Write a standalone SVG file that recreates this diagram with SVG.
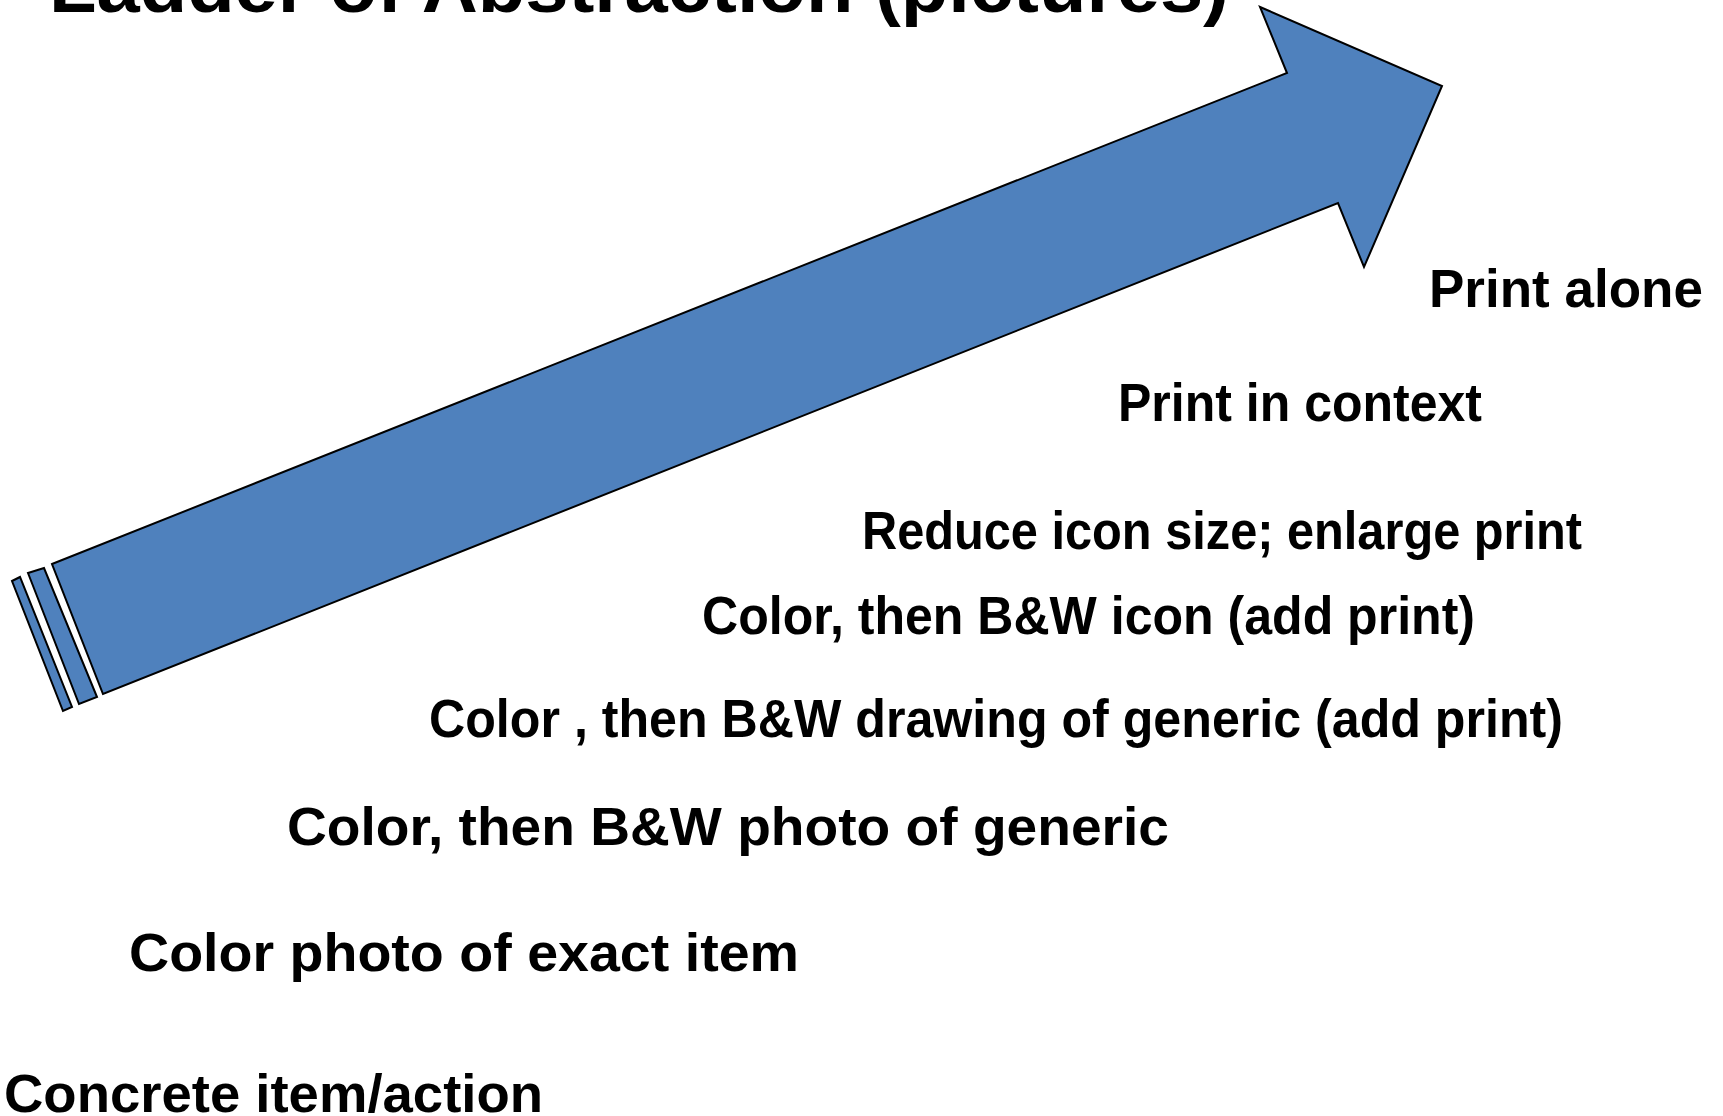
<svg xmlns="http://www.w3.org/2000/svg" width="1723" height="1116" viewBox="0 0 1723 1116">
<style>
.lbl{font-family:"Liberation Sans",Arial,sans-serif;font-weight:bold;font-size:54px;fill:#000}
.shape{fill:#4F81BD;stroke:#000;stroke-width:2;stroke-linejoin:miter}
</style>
<rect width="1723" height="1116" fill="#fff"/>
<g id="title">
<text class="lbl" x="49" y="12" style="font-size:74px" textLength="1180" lengthAdjust="spacingAndGlyphs">Ladder of Abstraction (pictures)</text>
</g>
<g id="arrow">
<polygon class="shape" points="52,564 1287,73 1260,7 1442,86 1364,267 1338,203 103,694"/>
<polygon class="shape" points="28,573 44,568 97,697 79,704"/>
<polygon class="shape" points="12,581 20,577 72,707 63,711"/>
</g>
<g id="labels">
<g id="n1"><text class="lbl" x="1429" y="307" textLength="274" lengthAdjust="spacingAndGlyphs">Print alone</text></g>
<g id="n2"><text class="lbl" x="1118" y="421" textLength="364" lengthAdjust="spacingAndGlyphs">Print in context</text></g>
<g id="n3"><text class="lbl" x="862" y="549" textLength="720" lengthAdjust="spacingAndGlyphs">Reduce icon size; enlarge print</text></g>
<g id="n4"><text class="lbl" x="702" y="634" textLength="773" lengthAdjust="spacingAndGlyphs">Color, then B&amp;W icon (add print)</text></g>
<g id="n5"><text class="lbl" x="429" y="737" textLength="1134" lengthAdjust="spacingAndGlyphs">Color , then B&amp;W drawing of generic (add print)</text></g>
<g id="n6"><text class="lbl" x="287" y="845" textLength="882" lengthAdjust="spacingAndGlyphs">Color, then B&amp;W photo of generic</text></g>
<g id="n7"><text class="lbl" x="129" y="971" textLength="670" lengthAdjust="spacingAndGlyphs">Color photo of exact item</text></g>
<g id="n8"><text class="lbl" x="4" y="1112" textLength="539" lengthAdjust="spacingAndGlyphs">Concrete item/action</text></g>
</g>
</svg>
